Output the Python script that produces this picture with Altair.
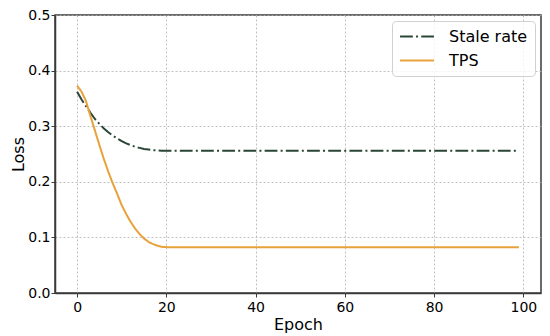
import altair as alt
import pandas as pd

epochs = [0, 1, 2, 3, 4, 5, 6, 7, 8, 9, 10, 11, 12, 13, 14, 15, 16, 17, 18, 19, 20, 99]
stale_rate = [0.362, 0.348, 0.336, 0.324, 0.313, 0.304, 0.296, 0.289, 0.283, 0.278,
              0.273, 0.269, 0.266, 0.263, 0.261, 0.259, 0.258, 0.257, 0.2565, 0.256,
              0.256, 0.256]
tps = [0.373, 0.362, 0.345, 0.318, 0.292, 0.266, 0.241, 0.218, 0.197, 0.178,
       0.158, 0.142, 0.128, 0.116, 0.106, 0.098, 0.092, 0.088, 0.085, 0.083,
       0.0825, 0.0825]
series_names = ["Stale rate", "TPS"]
series_colors = ["#2a4637", "#e8a23b"]

df = pd.concat([
    pd.DataFrame({"Epoch": epochs, "Loss": stale_rate, "series": series_names[0]}),
    pd.DataFrame({"Epoch": epochs, "Loss": tps, "series": series_names[1]}),
])

font = "DejaVu Sans"

chart = alt.Chart(df).mark_line(strokeWidth=2).encode(
    x=alt.X("Epoch:Q",
            scale=alt.Scale(domain=[-4.95, 103.95], nice=False, zero=False),
            axis=alt.Axis(title="Epoch", values=[0, 20, 40, 60, 80, 100], format="d")),
    y=alt.Y("Loss:Q",
            scale=alt.Scale(domain=[0, 0.5], nice=False),
            axis=alt.Axis(title="Loss", values=[0, 0.1, 0.2, 0.3, 0.4, 0.5], format=".1f")),
    color=alt.Color("series:N",
                    scale=alt.Scale(domain=series_names, range=series_colors),
                    legend=alt.Legend(title=None)),
    strokeDash=alt.StrokeDash("series:N",
                              scale=alt.Scale(domain=series_names,
                                              range=[[12.8, 3.2, 2, 3.2], [1, 0]]),
                              legend=alt.Legend(title=None)),
).properties(
    width=486, height=278,
    autosize=alt.AutoSizeParams(type="none"),
    padding={"left": 47, "top": 7, "right": 1, "bottom": 41},
).configure_view(
    stroke="#3a3a3a", strokeWidth=1.5
).configure_axis(
    labelFont=font, titleFont=font, labelFontSize=14, titleFontSize=16,
    titleFontWeight="normal", labelColor="#000", titleColor="#000",
    grid=True, gridColor="#b0b0b0", gridDash=[2, 2], gridWidth=0.8,
    domainColor="#3a3a3a", domainWidth=1.5, tickColor="#3a3a3a", tickSize=4, tickWidth=1,
).configure_axisX(
    labelPadding=3, titlePadding=2,
).configure_axisY(
    labelPadding=1, titlePadding=1,
).configure_legend(
    orient="top-right", offset=6,
    labelFont=font, labelFontSize=16, labelColor="#000",
    symbolType="stroke", symbolSize=1150, symbolStrokeWidth=2,
    clipHeight=17,
    strokeColor="#d0d0d0", fillColor="rgba(255,255,255,0.8)",
    cornerRadius=4, padding=7, rowPadding=7, labelOffset=14,
)

chart.save("out.html", embed_options={"renderer": "svg", "actions": False})
